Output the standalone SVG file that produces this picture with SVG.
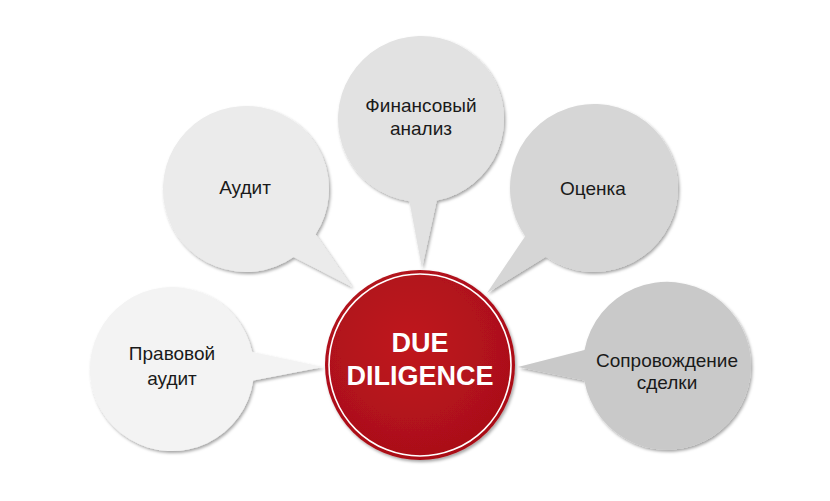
<svg xmlns="http://www.w3.org/2000/svg" width="830" height="501" viewBox="0 0 830 501">
<defs>
<filter id="sh" x="-20%" y="-20%" width="140%" height="140%">
<feDropShadow dx="1.5" dy="2" stdDeviation="1.6" flood-color="#000" flood-opacity="0.35"/>
</filter>
<radialGradient id="red" cx="45%" cy="40%" r="65%">
<stop offset="0" stop-color="#c0161f"/>
<stop offset="1" stop-color="#a80f18"/>
</radialGradient>
<style>
.lbl{font-family:"Liberation Sans",Arial,sans-serif;font-size:19px;fill:#1a1a1a;text-anchor:middle}
.main{font-family:"Liberation Sans",Arial,sans-serif;font-size:27px;font-weight:bold;fill:#fff;text-anchor:middle}
.bub{filter:url(#sh)}
</style>
</defs>
<rect width="830" height="501" fill="#fff"/>
<g id="connectors"></g>
<g id="node-audit">
<path class="bub" fill="#ebebeb" d="M315.6,234.2 L352,287 L293.6,257 A83,83 0 1 1 315.6,234.2 Z"/>
<text class="lbl" x="245" y="194">Аудит</text>
</g>
<g id="node-finance">
<path class="bub" fill="#e2e2e2" d="M436.8,200.5 L422,268 L409.4,201.2 A83,83 0 1 1 436.8,200.5 Z"/>
<text class="lbl" x="421" y="112">Финансовый</text>
<text class="lbl" x="421" y="135">анализ</text>
</g>
<g id="node-valuation">
<path class="bub" fill="#d6d6d6" d="M545.8,256.8 L487,293 L525.2,236.2 A84,84 0 1 1 545.8,256.8 Z"/>
<text class="lbl" x="593" y="195">Оценка</text>
</g>
<g id="node-support">
<path class="bub" fill="#c9c9c9" d="M584.3,380.6 L518,367 L584.5,350 A84,84 0 1 1 584.3,380.6 Z"/>
<text class="lbl" x="667" y="367">Сопровождение</text>
<text class="lbl" x="667" y="389">сделки</text>
</g>
<g id="node-legal">
<path class="bub" fill="#f3f3f3" d="M252.2,352 L323,367 L253.2,380.4 A82,82 0 1 1 252.2,352 Z"/>
<text class="lbl" x="172" y="360">Правовой</text>
<text class="lbl" x="172" y="385">аудит</text>
</g>
<g id="node-dd">
<circle cx="420" cy="365" r="95" fill="url(#red)" filter="url(#sh)"/>
<circle cx="420" cy="365" r="91" fill="none" stroke="#fff" stroke-width="1.6"/>
<text class="main" x="420" y="352">DUE</text>
<text class="main" x="420" y="385">DILIGENCE</text>
</g>
</svg>
